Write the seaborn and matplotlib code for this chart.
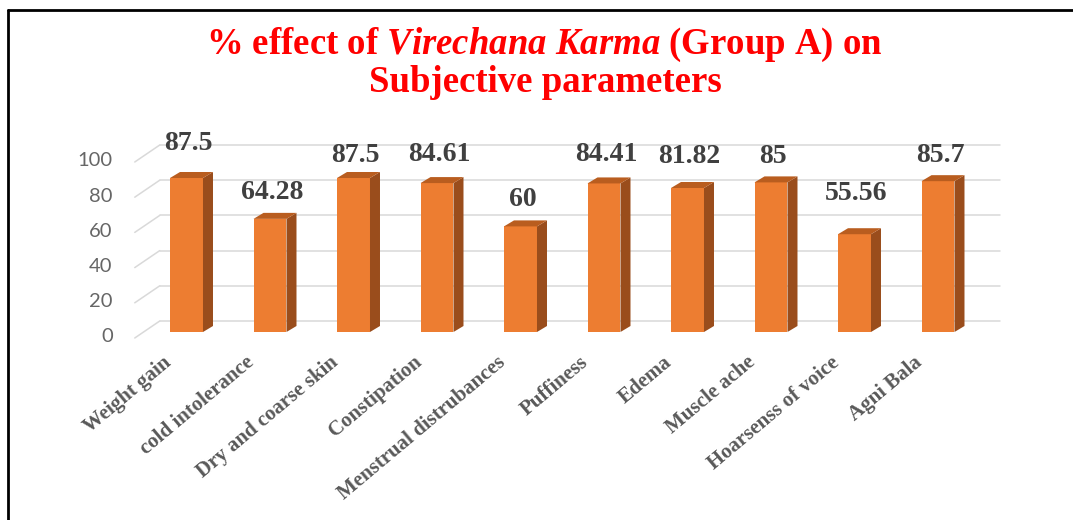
import matplotlib
matplotlib.use("Agg")
import matplotlib.pyplot as plt
import matplotlib.transforms as mtransforms
from matplotlib.lines import Line2D
from matplotlib.patches import Polygon
import seaborn as sns
import pandas as pd

# data
categories = ["Weight gain", "cold intolerance", "Dry and coarse skin", "Constipation",
              "Menstrual distrubances", "Puffiness", "Edema", "Muscle ache",
              "Hoarsenss of voice", "Agni Bala"]
effect = [87.5, 64.28, 87.5, 84.61, 60, 84.41, 81.82, 85, 55.56, 85.7]
value_labels = ["87.5", "64.28", "87.5", "84.61", "60", "84.41", "81.82", "85", "55.56", "85.7"]
y_ticks = [0, 20, 40, 60, 80, 100]

# how far (px) each data label sits above its bar; the labels were nudged by hand in the original
label_lift = [35, 26, 23, 29, 27, 29, 31, 26, 41, 26]

W, H, DPI = 1073, 520, 100
FRONT, SIDE, TOP = "#ED7D31", "#9A4D1C", "#B95D1F"
GRID = "#D9D9D9"
DEPTH = (10, 6)      # bar depth in px
WALL = (15, 11)      # back wall offset in px

sns.set_theme(style="white")
plt.rcParams["font.family"] = ["Liberation Serif", "DejaVu Serif"]
plt.rcParams["mathtext.fontset"] = "custom"
plt.rcParams["mathtext.rm"] = "Liberation Serif:bold"
plt.rcParams["mathtext.it"] = "Liberation Serif:italic:bold"

fig = plt.figure(figsize=(W / DPI, H / DPI), dpi=DPI)
fig.patch.set_facecolor("white")
ax = fig.add_axes([144.75 / W, (H - 332) / H, 835 / W, 176 / H])

df = pd.DataFrame({"param": categories, "effect": effect})
sns.barplot(data=df, x="param", y="effect", color=FRONT, saturation=1,
            width=0.395, linewidth=0, ax=ax, zorder=3)
ax.set_xlim(-0.5, len(categories) - 0.5)
ax.set_ylim(0, 100)
ax.axis("off")


def shifted(x, y, dx, dy):
    px, py = ax.transData.transform((x, y))
    return tuple(ax.transData.inverted().transform((px + dx, py + dy)))


# back wall gridlines + the slanted floor/side lines
x0, x1 = ax.get_xlim()
for t in y_ticks:
    a = shifted(x0, t, *WALL)
    b = shifted(x1, t, WALL[0] + 5, WALL[1])
    ax.add_line(Line2D([a[0], b[0]], [a[1], b[1]], color=GRID, lw=1.1, zorder=0, clip_on=False))
    c = shifted(x0, t, -10, -6)
    ax.add_line(Line2D([c[0], a[0]], [c[1], a[1]], color=GRID, lw=1.1, zorder=0, clip_on=False))

# fake 3d: side and top faces for every bar
for bar in ax.patches[:len(categories)]:
    bx0 = bar.get_x()
    bx1 = bx0 + bar.get_width()
    top = bar.get_height()
    side = [(bx1, 0), shifted(bx1, 0, *DEPTH), shifted(bx1, top, *DEPTH), (bx1, top)]
    cap = [(bx0, top), shifted(bx0, top, *DEPTH), shifted(bx1, top, *DEPTH), (bx1, top)]
    ax.add_patch(Polygon(side, closed=True, facecolor=SIDE, edgecolor="none", zorder=3, clip_on=False))
    ax.add_patch(Polygon(cap, closed=True, facecolor=TOP, edgecolor="none", zorder=3, clip_on=False))

# data labels
for i, (v, lab, lift) in enumerate(zip(effect, value_labels, label_lift)):
    tr = ax.transData + mtransforms.ScaledTranslation(2 / DPI, lift / DPI, fig.dpi_scale_trans)
    ax.text(i, v, lab, transform=tr, ha="center", va="center", fontsize=20,
            fontweight="bold", color="#404040", zorder=5)

# y tick labels, sitting on the front edge of the floor
ytr = ax.get_yaxis_transform() + mtransforms.ScaledTranslation(-32 / DPI, -5 / DPI, fig.dpi_scale_trans)
for t in y_ticks:
    ax.text(0, t, str(t), transform=ytr, ha="right", va="center", fontsize=14.5,
            family="Lato", color="#666666")

# category labels
xtr = ax.get_xaxis_transform() + mtransforms.ScaledTranslation(-18 / DPI, -28 / DPI, fig.dpi_scale_trans)
for i, cat in enumerate(categories):
    ax.text(i, 0, cat, transform=xtr, ha="right", va="center", rotation=40,
            rotation_mode="anchor", fontsize=15, fontweight="bold", color="#595959")

# title
fig.text(0.507, 1 - 45 / H, r"% effect of $\mathit{Virechana\ Karma}$ (Group A) on",
         ha="center", va="center", fontsize=26.5, fontweight="bold", color="#FF0000")
fig.text(0.508, 1 - 83 / H, "Subjective parameters",
         ha="center", va="center", fontsize=26.5, fontweight="bold", color="#FF0000")

# frame of the pasted chart (top and left edges only are visible)
fig.add_artist(Line2D([8 / W, 1], [1 - 10 / H, 1 - 10 / H], color="black", lw=2,
                      transform=fig.transFigure))
fig.add_artist(Line2D([8 / W, 8 / W], [0, 1 - 10 / H], color="black", lw=2,
                      transform=fig.transFigure))

fig.savefig("out.png", dpi=DPI)
